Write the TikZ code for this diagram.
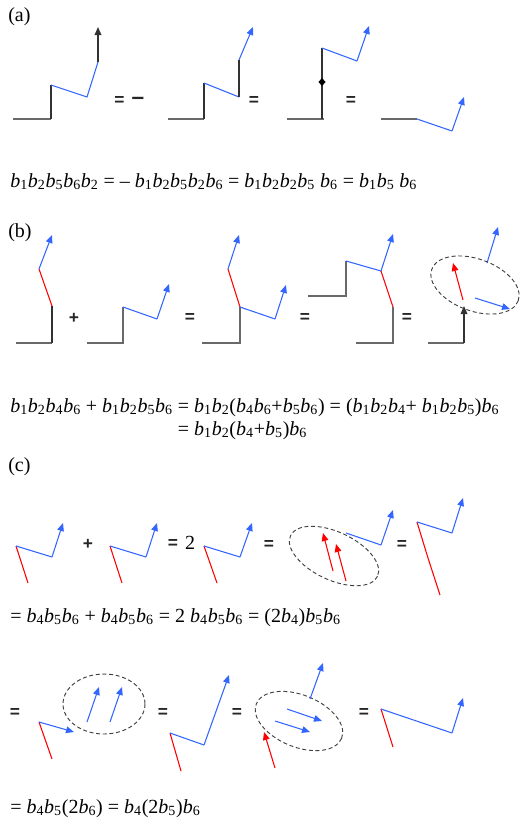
\documentclass[tikz,border=0pt]{standalone}
\usepackage{fontspec}
\setmainfont{Liberation Serif}
\newfontfamily\sansf{Liberation Sans}
\usetikzlibrary{arrows.meta}
\definecolor{vblue}{RGB}{51,102,255}
\definecolor{vred}{RGB}{255,0,0}
\definecolor{lgray}{RGB}{105,105,105}
\definecolor{dgray}{RGB}{50,50,50}
\newcommand\bi[1]{\textit{b}\textsubscript{#1}}
\begin{document}
\begin{tikzpicture}[x=0.75pt,y=-0.75pt,
 bl/.style={vblue,line width=0.8pt},
 rd/.style={vred,line width=0.8pt},
 gr/.style={lgray,line width=1.1pt},
 bk/.style={dgray,line width=0.9pt},
 tip/.style={-{Triangle[length=6pt,width=5pt]}},
 ell/.style={dash pattern=on 3pt off 2pt, line width=0.7pt, black!75},
 op/.style={font=\sansf\bfseries\fontsize{13}{13}\selectfont, text=black!85, inner sep=0pt},
 eq/.style={font=\fontsize{15}{17.25}\selectfont, inner sep=0pt, anchor=base west},
 lab/.style={font=\fontsize{15}{18}\selectfont, inner sep=0pt, anchor=west}]
\useasboundingbox (0,0) rectangle (520,825);

% ---------- (a) ----------
\node[lab] (la) at (8,17) {(a)};
% a1
\draw[gr] (13,119) -- (51,119);
\draw[bk] (51,119) -- (51,85);
\draw[bl] (51,85) -- (87,97) -- (98,62);
\draw[bk,tip] (98,62) -- (98,27);
\node[op] (ae1) at (119.5,101) {=};
\node[op,font=\sansf\bfseries\fontsize{17}{17}\selectfont] (am1) at (138,101) {–};
% a2
\draw[gr] (168,119) -- (204,119);
\draw[bk] (204,119) -- (204,83);
\draw[bl] (204,83) -- (239,97);
\draw[bk] (239,97) -- (239,60);
\draw[bl,tip] (239,60) -- (253,27);
\node[op] (ae2) at (254,101) {=};
% a3
\draw[gr] (287,119) -- (324,119);
\draw[bk] (322,119) -- (322,48);
\fill[black] (318.5,82) -- (322,78) -- (325.5,82) -- (322,86) -- cycle;
\draw[bl] (322,48) -- (357,61);
\draw[bl,tip] (357,61) -- (369,26);
\node[op] (ae3) at (351,101) {=};
% a4
\draw[gr] (381,119) -- (417,119);
\draw[bl] (417,119) -- (452,131);
\draw[bl,tip] (452,131) -- (464,97);
\node[eq] (fa) at (10,187) {\bi1\bi2\bi5\bi6\bi2 = – \bi1\bi2\bi5\bi2\bi6 = \bi1\bi2\bi2\bi5\ \bi6 = \bi1\bi5\ \bi6};

% ---------- (b) ----------
\node[lab] (lb) at (8,233) {(b)};
% b1
\draw[gr] (16,343) -- (52,343);
\draw[bk] (52,343) -- (52,306);
\draw[rd] (52,306) -- (39,269);
\draw[bl,tip] (39,269) -- (52,235);
\node[op] (bp1) at (74,318) {+};
% b2
\draw[gr] (87,343) -- (123,343) -- (123,307);
\draw[bl] (123,307) -- (157,319);
\draw[bl,tip] (157,319) -- (169,284);
\node[op] (be1) at (190,318) {=};
% b3
\draw[gr] (202,343) -- (240,343) -- (240,307);
\draw[rd] (240,307) -- (228,269);
\draw[bl,tip] (228,269) -- (239,235);
\draw[bl] (240,307) -- (275,319);
\draw[bl,tip] (275,319) -- (286,285);
\node[op] (be2) at (305,318) {=};
% b4
\draw[gr] (308,296) -- (346,296) -- (346,261);
\draw[bl] (346,261) -- (381,271);
\draw[bl,tip] (381,271) -- (393,234);
\draw[rd] (381,271) -- (393,307);
\draw[gr] (393,307) -- (393,343) -- (356,343);
\node[op] (be3) at (407,318) {=};
% b5
\draw[gr] (428,343) -- (464,343);
\draw[bk,tip] (464,343) -- (464,306);
\draw[rd,tip] (463,300) -- (453,263);
\draw[bl,tip] (475,298) -- (510,309);
\draw[bl,tip] (487,263) -- (498,227);
\draw[ell,rotate around={-20:(475,285)}] (475,285) ellipse [x radius=46, y radius=26];
\node[eq] (fb) at (10,412) {\begin{tabular}[t]{@{}r@{}l@{}}
\bi1\bi2\bi4\bi6 + \bi1\bi2\bi5\bi6 & ~= \bi1\bi2(\bi4\bi6+\bi5\bi6) = (\bi1\bi2\bi4+ \bi1\bi2\bi5)\bi6\\
 & ~= \bi1\bi2(\bi4+\bi5)\bi6
\end{tabular}};

% ---------- (c) ----------
\node[lab] (lc) at (8,467) {(c)};
% c1a
\draw[rd] (16,546) -- (28,583);
\draw[bl] (16,546) -- (52,557);
\draw[bl,tip] (52,557) -- (63,523);
\node[op] (cp1) at (88,544) {+};
% c1b
\draw[rd] (110,546) -- (122,583);
\draw[bl] (110,546) -- (146,557);
\draw[bl,tip] (146,557) -- (157,523);
\node[op] (ce1) at (173,544) {=};
\node[font=\fontsize{15}{18}\selectfont, inner sep=0pt] (ctwo) at (190,543) {2};
% c1c
\draw[rd] (204,546) -- (217,583);
\draw[bl] (204,546) -- (240,557);
\draw[bl,tip] (240,557) -- (252,523);
\node[op] (ce2) at (269,545) {=};
% c1d
\draw[ell,rotate around={-25:(334,556)}] (334,556) ellipse [x radius=48, y radius=24];
\draw[rd,tip] (333,571) -- (323,533);
\draw[rd,tip] (346,581) -- (336,544);
\draw[bl] (346,533) -- (381,545);
\draw[bl,tip] (381,545) -- (393,510);
\node[op] (ce3) at (402,545) {=};
% c1e
\draw[rd] (417,522) -- (428,558) -- (440,595);
\draw[bl] (417,522) -- (452,533);
\draw[bl,tip] (452,533) -- (463,498);
\node[eq] (fc1) at (10,622) {= \bi4\bi5\bi6 + \bi4\bi5\bi6 = 2 \bi4\bi5\bi6 = (2\bi4)\bi5\bi6};

% c2
\node[op] (ce4) at (15,713) {=};
% c2a
\draw[rd] (39,722) -- (52,759);
\draw[bl,tip] (39,722) -- (74,732);
\draw[ell] (104,704) ellipse [x radius=41, y radius=30];
\draw[bl,tip] (87,722) -- (99,687);
\draw[bl,tip] (110,722) -- (122,687);
\node[op] (ce5) at (163,713) {=};
% c2b
\draw[rd] (170,733) -- (181,771);
\draw[bl] (170,733) -- (204,745);
\draw[bl,tip] (204,745) -- (229,675);
\node[op] (ce6) at (237,713) {=};
% c2c
\draw[ell,rotate around={-22:(299,721)}] (299,721) ellipse [x radius=46, y radius=26];
\draw[bl,tip] (287,709) -- (322,721);
\draw[bl,tip] (275,721) -- (310,732);
\draw[bl,tip] (310,699) -- (323,663);
\draw[rd,tip] (275,768) -- (264,732);
\node[op] (ce7) at (364,713) {=};
% c2d
\draw[rd] (381,709) -- (393,747);
\draw[bl] (381,709) -- (452,733);
\draw[bl,tip] (452,733) -- (463,698);
\node[eq] (fc2) at (10,813) {= \bi4\bi5(2\bi6) = \bi4(2\bi5)\bi6};
\end{tikzpicture}
\end{document}
